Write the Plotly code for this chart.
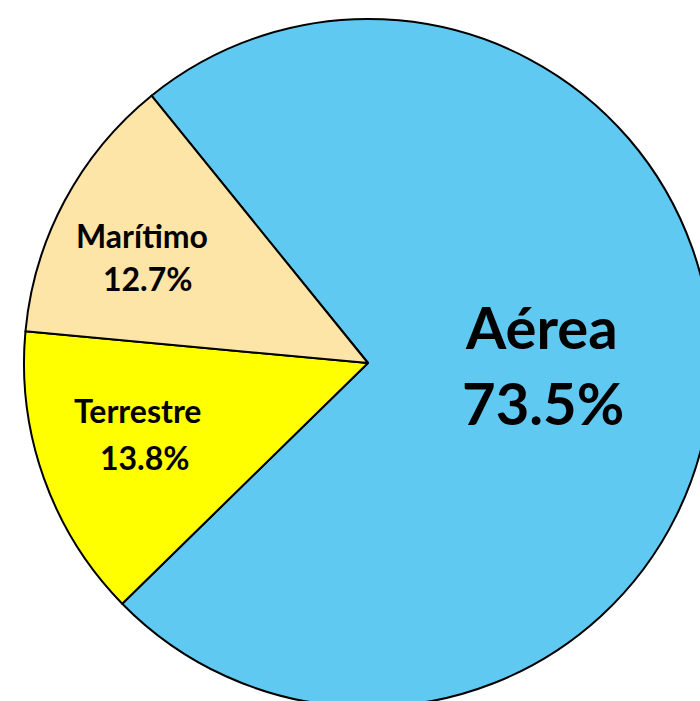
import plotly.graph_objects as go

labels = ["Aérea", "Terrestre", "Marítimo"]
values = [73.5, 13.8, 12.7]
colors = ["#60C9F2", "#FFFF00", "#FDE4A7"]

W, H = 760, 760
cx, cy, R = 368, 363, 344

fig = go.Figure(go.Pie(
    labels=labels, values=values, sort=False, direction="clockwise",
    rotation=-39, marker=dict(colors=colors, line=dict(color="black", width=2)),
    textinfo="none", hoverinfo="label+percent",
    domain=dict(x=[(cx - R) / W, (cx + R) / W], y=[(H - cy - R) / H, (H - cy + R) / H]),
    showlegend=False,
))

# label line positions (px in screen) and font sizes
name_pos = [(541, 326), (137, 411), (142, 236)]
pct_pos = [(543, 403), (145, 457), (148, 278)]
label_size = [58, 32, 32]
for lab, val, npos, ppos, fs in zip(labels, values, name_pos, pct_pos, label_size):
    for txt, (px, py) in ((lab, npos), (f"{val:.1f}%", ppos)):
        fig.add_annotation(
            x=px / W, y=(H - py) / H, xref="paper", yref="paper",
            text=f"<b>{txt}</b>", showarrow=False,
            font=dict(family="Lato", size=fs, color="black"),
            xanchor="center", yanchor="middle", align="center",
        )

fig.update_layout(width=W, height=H, margin=dict(l=0, r=0, t=0, b=0),
                  paper_bgcolor="white", plot_bgcolor="white")
fig.write_html("out.html", post_script="document.body.style.margin='0';document.body.style.overflow='hidden';")
